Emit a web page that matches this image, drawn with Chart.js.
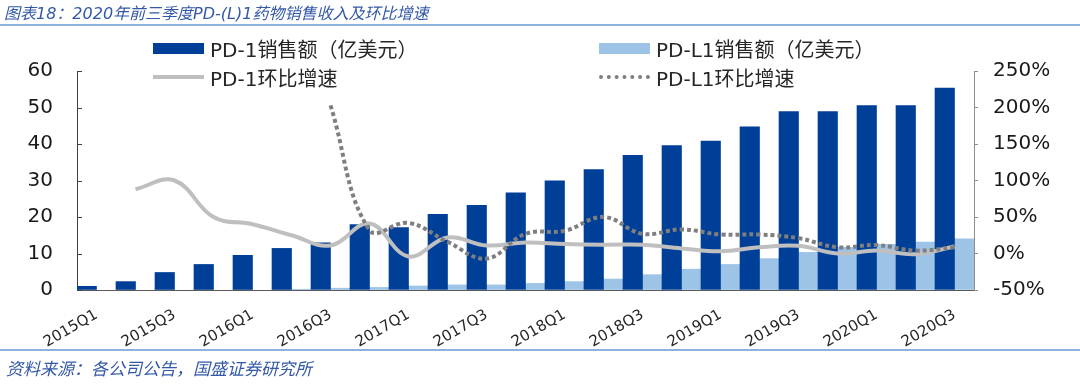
<!DOCTYPE html>
<html>
<head>
<meta charset="utf-8">
<script src="https://cdn.jsdelivr.net/npm/chart.js@4"></script>
<style>
  body { margin: 0; background: #fff; }
  #wrap { position: relative; width: 1080px; height: 386px; overflow: hidden; }
  #c { position: absolute; left: 0; top: 0; }
  .title { position: absolute; left: 4px; top: 4px; font: italic 16px "DejaVu Sans", "Noto Sans CJK SC", sans-serif; color: #3358a8; white-space: nowrap; line-height: 20px; }
  .rule { position: absolute; left: 0; width: 1080px; height: 2px; background: #8fb1de; }
  .source { position: absolute; left: 6px; top: 357px; font: italic 17px "Noto Sans CJK SC", sans-serif; color: #3358a8; white-space: nowrap; line-height: 22px; }
  #legend .item { position: absolute; height: 24px; display: flex; align-items: center; white-space: nowrap;
    font: 20px "DejaVu Sans", "Noto Sans CJK SC", sans-serif; color: #262626; }
  #legend .sw { width: 51px; margin-right: 6px; }
</style>
</head>
<body>
<div id="wrap">
  <canvas id="c" width="1080" height="386"></canvas>
  <div class="title">图表18：2020年前三季度PD-(L)1药物销售收入及环比增速</div>
  <div class="rule" style="top:24px"></div>
  <div id="legend"></div>
  <div class="rule" style="top:349px"></div>
  <div class="source">资料来源：各公司公告，国盛证券研究所</div>
</div>
<script>
const quarters = ["2015Q1", "2015Q2", "2015Q3", "2015Q4", "2016Q1", "2016Q2", "2016Q3", "2016Q4",
  "2017Q1", "2017Q2", "2017Q3", "2017Q4", "2018Q1", "2018Q2", "2018Q3", "2018Q4",
  "2019Q1", "2019Q2", "2019Q3", "2019Q4", "2020Q1", "2020Q2", "2020Q3"];

// sales, 100 million USD
const pd1Sales = [1.0, 2.3, 4.8, 7.0, 9.5, 11.4, 12.9, 17.9, 17.1, 20.7, 23.2, 26.6,
  29.9, 33.0, 36.9, 39.6, 40.8, 44.7, 48.9, 48.9, 50.5, 50.5, 55.3];
const pdl1Sales = [null, null, null, null, null, 0.2, 0.5, 0.7, 1.1, 1.4, 1.4, 1.8,
  2.3, 3.0, 4.2, 5.7, 7.0, 8.6, 10.3, 11.7, 12.5, 13.1, 14.0];

// quarter on quarter growth, %
const pd1Growth = [null, 88, 100, 50, 40, 25, 11, 41, -4, 22, 11, 15,
  13, 12, 12, 7, 3, 8.5, 10.5, 0, 4, -1, 9.5];
const pdl1Growth = [null, null, null, null, null, null, 203, 32, 42, 16, -7, 27,
  31, 50, 27, 33, 26, 26, 21, 8.5, 11.5, 4, 8.5];

const leftTicks = [0, 10, 20, 30, 40, 50, 60];
const rightTicks = [-50, 0, 50, 100, 150, 200, 250];

const tickFont = { family: "DejaVu Sans", size: 20 };

const datasets = [
  { type: "line", label: "PD-L1环比增速", data: pdl1Growth, yAxisID: "y1", order: 0,
    borderColor: "#7f7f7f", borderWidth: 4, borderDash: [4, 3], borderCapStyle: "butt",
    pointRadius: 0, tension: 0.4, fill: false },
  { type: "line", label: "PD-1环比增速", data: pd1Growth, yAxisID: "y1", order: 1,
    borderColor: "#bfbfbf", borderWidth: 4, pointRadius: 0, tension: 0.4, fill: false },
  { type: "bar", label: "PD-1销售额（亿美元）", data: pd1Sales, yAxisID: "y", order: 2,
    backgroundColor: "#003f98", categoryPercentage: 1, barPercentage: 1 },
  { type: "bar", label: "PD-L1销售额（亿美元）", data: pdl1Sales, yAxisID: "y", order: 3,
    backgroundColor: "#9dc3e6", categoryPercentage: 1, barPercentage: 1 }
];

// short inward tick marks on the left axis, as in the source chart
const innerTicks = {
  id: "innerTicks",
  afterDatasetsDraw(c) {
    const y = c.scales.y, ctx = c.ctx;
    ctx.save();
    ctx.strokeStyle = "#404040";
    ctx.lineWidth = 1;
    y.ticks.forEach(t => {
      const py = Math.round(y.getPixelForValue(t.value)) + 0.5;
      ctx.beginPath();
      ctx.moveTo(y.right, py);
      ctx.lineTo(y.right + 5, py);
      ctx.stroke();
    });
    ctx.restore();
  }
};

const chart = new Chart(document.getElementById("c"), {
  data: { labels: quarters, datasets },
  plugins: [innerTicks],
  options: {
    responsive: false,
    devicePixelRatio: 1,
    animation: false,
    layout: { padding: { top: 71, left: 0, right: 0, bottom: 0 } },
    plugins: { legend: { display: false }, tooltip: { enabled: false } },
    scales: {
      x: {
        grid: { display: false },
        border: { display: true, color: "#595959", width: 1 },
        ticks: {
          autoSkip: false, minRotation: 30, maxRotation: 30, padding: 8,
          color: "#262626", font: { family: "DejaVu Sans", size: 15 },
          callback: function (v, i) { return i % 2 === 0 ? this.getLabelForValue(v) : ""; }
        },
        afterFit: s => { s.height = 96; }
      },
      y: {
        position: "left", min: leftTicks[0], max: leftTicks[leftTicks.length - 1],
        afterBuildTicks: s => { s.ticks = leftTicks.map(v => ({ value: v })); },
        grid: { drawOnChartArea: false, drawTicks: false },
        border: { display: true, color: "#404040", width: 1 },
        ticks: { padding: 24, color: "#1a1a1a", font: tickFont },
        afterFit: s => { s.width = 77; }
      },
      y1: {
        position: "right", min: rightTicks[0], max: rightTicks[rightTicks.length - 1],
        afterBuildTicks: s => { s.ticks = rightTicks.map(v => ({ value: v })); },
        grid: { drawOnChartArea: false, drawTicks: true, tickLength: 4, color: "#8c8c8c" },
        border: { display: true, color: "#8c8c8c", width: 1 },
        ticks: { padding: 15, color: "#1a1a1a", font: tickFont, callback: v => v + "%" },
        afterFit: s => { s.width = 106; }
      }
    }
  }
});

// legend in a 2 x 2 grid, built from the chart's datasets
const legendSlots = {
  "PD-1销售额（亿美元）": [153, 36],
  "PD-L1销售额（亿美元）": [599, 36],
  "PD-1环比增速": [153, 65],
  "PD-L1环比增速": [599, 65]
};
const legend = document.getElementById("legend");
chart.data.datasets.forEach(ds => {
  const [x, y] = legendSlots[ds.label];
  const item = document.createElement("div");
  item.className = "item";
  item.style.left = x + "px";
  item.style.top = y + "px";
  const sw = document.createElement("span");
  sw.className = "sw";
  if (ds.type === "bar") {
    sw.style.height = "11px";
    sw.style.background = ds.backgroundColor;
  } else if (ds.borderDash) {
    sw.style.height = "0";
    sw.style.borderTop = "4px dotted " + ds.borderColor;
  } else {
    sw.style.height = "4px";
    sw.style.background = ds.borderColor;
  }
  item.appendChild(sw);
  item.appendChild(document.createTextNode(ds.label));
  legend.appendChild(item);
});
</script>
</body>
</html>
